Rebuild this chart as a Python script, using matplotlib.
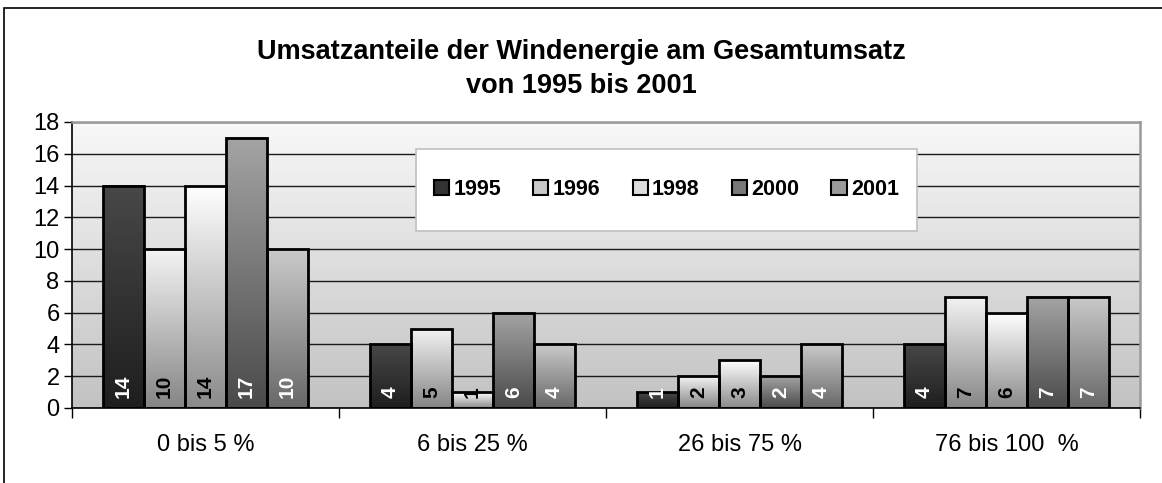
import numpy as np
import matplotlib
matplotlib.use('Agg')
from matplotlib import pyplot as plt
from matplotlib.colors import LinearSegmentedColormap
from matplotlib.patches import Rectangle, Patch

plt.rcParams['font.family'] = ['Liberation Sans', 'DejaVu Sans']

categories = ['0 bis 5 %', '6 bis 25 %', '26 bis 75 %', '76 bis 100  %']
years = ['1995', '1996', '1998', '2000', '2001']
values = {
    '1995': [14, 4, 1, 4],
    '1996': [10, 5, 2, 7],
    '1998': [14, 1, 3, 6],
    '2000': [17, 6, 2, 7],
    '2001': [10, 4, 4, 7],
}
title = 'Umsatzanteile der Windenergie am Gesamtumsatz\nvon 1995 bis 2001'

# gradient colours per series (top, bottom), label colour
grad_colors = {
    '1995': ('#484848', '#1e1e1e'),
    '1996': ('#f4f4f4', '#858585'),
    '1998': ('#ffffff', '#8a8a8a'),
    '2000': ('#a4a4a4', '#4a4a4a'),
    '2001': ('#cacaca', '#686868'),
}
label_colors = {'1995': 'white', '1996': 'black', '1998': 'black',
                '2000': 'white', '2001': 'white'}
legend_colors = {'1995': '#333333', '1996': '#c8c8c8', '1998': '#dcdcdc',
                 '2000': '#787878', '2001': '#9a9a9a'}


def main():
    fig = plt.figure(figsize=(11.62, 4.83), dpi=100)
    ax = fig.add_axes([72 / 1162, 1 - 408 / 483, 1068 / 1162, 286 / 483])

    ymax = 18
    # background gradient of the plot area
    bg = LinearSegmentedColormap.from_list('bg', ['#f8f8f8', '#c2c2c2'])
    grad = np.linspace(0, 1, 256).reshape(-1, 1)
    ax.imshow(grad, extent=[-0.5, 3.5, 0, ymax], cmap=bg, aspect='auto',
              zorder=0, interpolation='bicubic')

    w = 0.1536
    x = np.arange(len(categories))
    for j, yr in enumerate(years):
        cm = LinearSegmentedColormap.from_list(yr, list(grad_colors[yr]))
        xs = x + (j - 2) * w
        for xi, v in zip(xs, values[yr]):
            ax.imshow(grad, extent=[xi - w / 2, xi + w / 2, 0, v], cmap=cm,
                      aspect='auto', zorder=2, interpolation='bicubic')
            ax.text(xi, 0.6, str(v), rotation=90, ha='center', va='bottom',
                    fontsize=15, fontweight='bold', color=label_colors[yr],
                    zorder=4)
        ax.bar(xs, values[yr], width=w, facecolor='none', edgecolor='black',
               linewidth=2, zorder=3)

    ax.set_xlim(-0.5, 3.5)
    ax.set_ylim(0, ymax)
    ax.set_yticks(np.arange(0, ymax + 1, 2))
    ax.set_axisbelow(True)
    ax.yaxis.grid(True, color='#1a1a1a', linewidth=1)
    ax.tick_params(axis='y', direction='out', length=6, width=1,
                   labelsize=17, pad=3)

    ax.set_xticks([-0.5, 0.5, 1.5, 2.5, 3.5])
    ax.set_xticklabels([])
    ax.set_xticks(x, minor=True)
    ax.set_xticklabels(categories, minor=True)
    ax.tick_params(axis='x', which='major', direction='out', length=7, width=1)
    ax.tick_params(axis='x', which='minor', length=0, labelsize=17, pad=19)

    for s in ['top', 'right']:
        ax.spines[s].set_color('#9a9a9a')
        ax.spines[s].set_linewidth(1.8)
    for s in ['left', 'bottom']:
        ax.spines[s].set_color('black')
        ax.spines[s].set_linewidth(1.2)

    # legend box
    box = Rectangle((0.322, 0.619), 0.469, 0.287, transform=ax.transAxes,
                    facecolor='white', edgecolor='#c0c0c0', linewidth=1.2,
                    zorder=5)
    ax.add_patch(box)
    handles = [Patch(facecolor=legend_colors[yr], edgecolor='black',
                     linewidth=1.5, label=yr) for yr in years]
    leg = ax.legend(handles=handles, loc='center', ncol=5, frameon=False,
                    bbox_to_anchor=(0.322 + 0.469 / 2, 0.619 + 0.287 / 2),
                    prop={'size': 15.5, 'weight': 'bold'},
                    handlelength=0.7, handleheight=0.7, handletextpad=0.2,
                    columnspacing=1.5)
    leg.set_zorder(6)

    fig.text(0.5, 1 - 69 / 483, title, ha='center', va='center',
             fontsize=19.5, fontweight='bold', linespacing=1.4)

    # outer chart border (left and top edges visible)
    fig.patches.append(Rectangle((4 / 1162, -0.1), 1.2, 1.1 - 8 / 483,
                                 transform=fig.transFigure, fill=False,
                                 edgecolor='black', linewidth=1.2))

    fig.savefig('out.png', dpi=100)


if __name__ == '__main__':
    main()
